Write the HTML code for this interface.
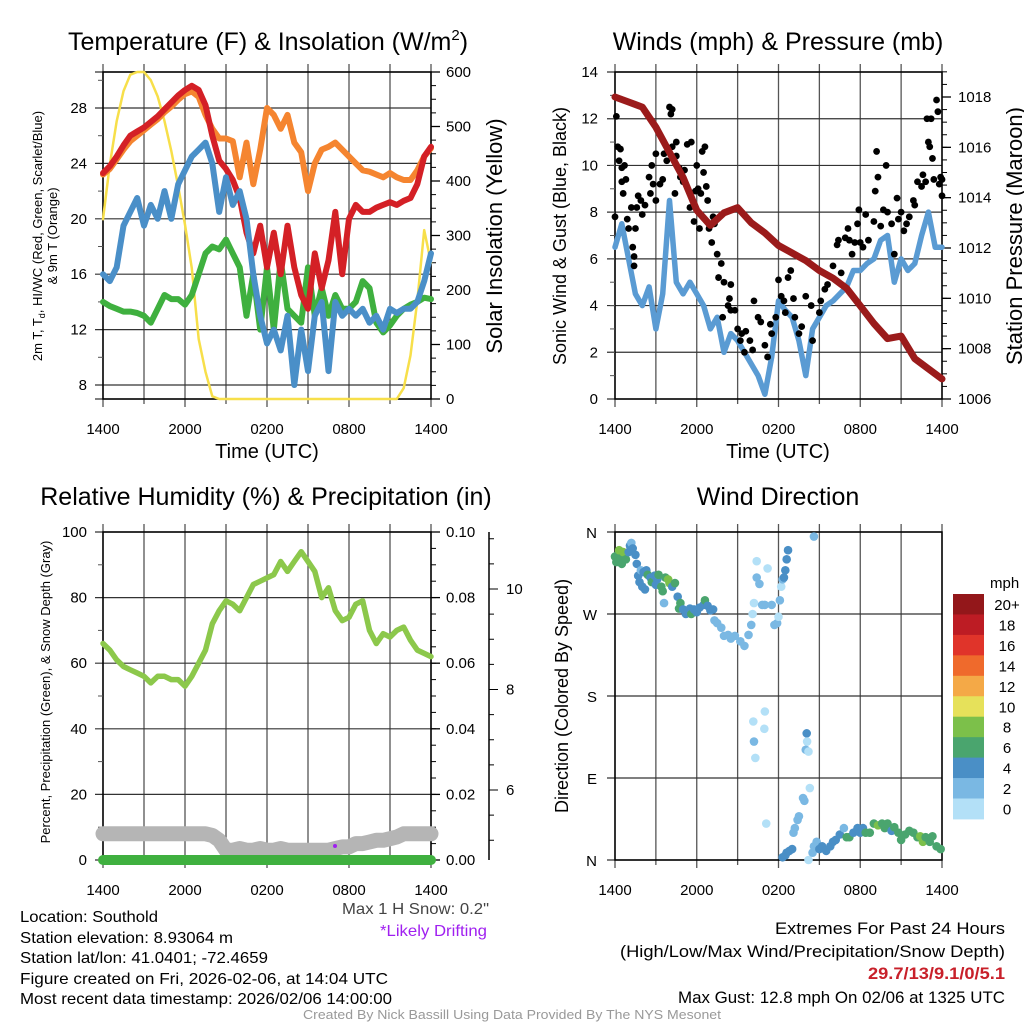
<!DOCTYPE html>
<html><head><meta charset="utf-8"><style>
html,body{margin:0;padding:0;background:#fff;}
svg{display:block;font-family:"Liberation Sans",sans-serif;}
</style></head><body>
<svg id="c" width="1024" height="1024" viewBox="0 0 1024 1024" xmlns="http://www.w3.org/2000/svg">
<rect x="0" y="0" width="1024" height="1024" fill="#fff"/>
<g id="layer"></g>
<text x="268" y="50" font-size="25" text-anchor="middle">Temperature (F) &amp; Insolation (W/m<tspan font-size="15" dy="-10">2</tspan><tspan dy="10">)</tspan></text>
<text x="778" y="50" font-size="25" text-anchor="middle">Winds (mph) &amp; Pressure (mb)</text>
<text x="266" y="505" font-size="25" text-anchor="middle">Relative Humidity (%) &amp; Precipitation (in)</text>
<text x="778" y="505" font-size="25" text-anchor="middle">Wind Direction</text>
<text x="267" y="458" font-size="20" text-anchor="middle">Time (UTC)</text>
<text x="778" y="458" font-size="20" text-anchor="middle">Time (UTC)</text>
<text transform="translate(42,236) rotate(-90)" font-size="13" text-anchor="middle">2m T, T<tspan font-size="9" dy="3">d</tspan><tspan dy="-3">, HI/WC (Red, Green, Scarlet/Blue)</tspan></text>
<text transform="translate(57,236) rotate(-90)" font-size="13" text-anchor="middle">&amp; 9m T (Orange)</text>
<text transform="translate(502,236) rotate(-90)" font-size="22" text-anchor="middle">Solar Insolation (Yellow)</text>
<text transform="translate(566,236) rotate(-90)" font-size="18" text-anchor="middle">Sonic Wind &amp; Gust (Blue, Black)</text>
<text transform="translate(1022,236) rotate(-90)" font-size="22" text-anchor="middle">Station Pressure (Maroon)</text>
<text transform="translate(50,692) rotate(-90)" font-size="13" text-anchor="middle">Percent, Precipitation (Green), &amp; Snow Depth (Gray)</text>
<text transform="translate(568,696) rotate(-90)" font-size="18" text-anchor="middle">Direction (Colored By Speed)</text>
<text x="489" y="914" font-size="16" fill="#444" text-anchor="end" textLength="147" lengthAdjust="spacingAndGlyphs">Max 1 H Snow: 0.2"</text>
<text x="487" y="936" font-size="16" fill="#a020f0" text-anchor="end" textLength="107" lengthAdjust="spacingAndGlyphs">*Likely Drifting</text>
<g font-size="16">
<text x="20" y="922" textLength="138" lengthAdjust="spacingAndGlyphs">Location: Southold</text>
<text x="20" y="943" textLength="213" lengthAdjust="spacingAndGlyphs">Station elevation: 8.93064 m</text>
<text x="20" y="963" textLength="248" lengthAdjust="spacingAndGlyphs">Station lat/lon: 41.0401; -72.4659</text>
<text x="20" y="984" textLength="368" lengthAdjust="spacingAndGlyphs">Figure created on Fri, 2026-02-06, at 14:04 UTC</text>
<text x="20" y="1004" textLength="372" lengthAdjust="spacingAndGlyphs">Most recent data timestamp: 2026/02/06 14:00:00</text>
</g>
<g font-size="17" text-anchor="end">
<text x="1005" y="934" textLength="230" lengthAdjust="spacingAndGlyphs">Extremes For Past 24 Hours</text>
<text x="1005" y="957" textLength="385" lengthAdjust="spacingAndGlyphs">(High/Low/Max Wind/Precipitation/Snow Depth)</text>
<text x="1005" y="979" fill="#c8202a" font-weight="bold" textLength="137" lengthAdjust="spacingAndGlyphs">29.7/13/9.1/0/5.1</text>
<text x="1005" y="1003" textLength="327" lengthAdjust="spacingAndGlyphs">Max Gust: 12.8 mph On 02/06 at 1325 UTC</text>
</g>
<text x="512" y="1019" font-size="13" fill="#999" text-anchor="middle" textLength="418" lengthAdjust="spacingAndGlyphs">Created By Nick Bassill Using Data Provided By The NYS Mesonet</text>
</svg>
<script>
// ---- data ----
const timeTicks = ["1400","2000","0200","0800","1400"];
const redT = [23.3,23.8,24.5,25.3,26.0,26.3,26.6,27.0,27.4,27.9,28.4,28.9,29.3,29.6,29.3,28.2,26.0,24.2,23.6,22.8,21.5,19.0,17.5,19.5,16.5,19.0,16.0,19.5,16.5,14.5,13.5,17.5,15.0,17.0,20.5,16.0,20.0,21.0,20.5,20.5,20.8,21.0,21.2,21.0,21.3,21.5,22.5,24.5,25.2];
const orangeT = [23.2,23.6,24.3,25.0,25.6,26.0,26.4,26.8,27.2,27.7,28.1,28.6,29.0,29.2,28.8,27.5,26.5,25.8,25.8,25.6,23.0,25.5,22.5,25.0,28.0,27.5,26.5,27.5,25.5,24.8,22.0,24.0,25.0,25.2,25.5,25.0,24.5,24.0,23.5,23.4,23.2,23.0,23.3,23.0,22.8,22.8,23.5,24.5,25.1];
const blueWC = [16,15.5,16.5,19.5,20.5,21.5,19.5,21,20,22,20,22.5,23.5,24.5,25,25.5,24,20.5,23,21,22,20,16,13,11,12,10.5,13,8,12,9,13,14,9,14,13,13.5,13,13.5,12.5,13,12,13.5,13.2,13.5,13.5,14,15.5,17.5];
const greenTd = [14,13.7,13.5,13.3,13.3,13.2,13.0,12.5,13.5,14.5,14.2,14.2,13.8,14.5,16,17.5,18,17.8,18.5,17.5,16.5,13,16,12,16.5,12,17,13.5,13,12.5,16.5,13,15,13,14.5,13.5,13.5,14,15.5,15,12.5,11.8,12.3,13.0,13.5,13.8,14.0,14.3,14.2];
const solar = [330,430,510,565,595,600,600,585,555,510,455,390,320,240,110,50,5,0,0,0,0,0,0,0,0,0,0,0,0,0,0,0,0,0,0,0,0,0,0,0,0,0,0,0,20,80,180,310,250];
const windSpd = [6.5,7.5,6.0,4.5,4.0,4.8,3.0,4.5,8.5,5.0,4.5,5.0,4.5,4.0,3.0,3.5,2.0,2.8,2.5,2.0,1.5,1.0,0.2,1.8,4.2,3.8,3.5,2.5,1.0,3.0,3.5,4.0,4.2,4.5,4.8,5.5,5.5,5.8,6.0,6.8,7.0,5.0,6.0,5.5,5.8,7.0,8.0,6.5,6.5];
const gustHours = [0.0,0.1,0.2,0.3,0.4,0.5,0.5,0.6,0.7,0.8,0.9,1.0,1.2,1.3,1.4,1.4,1.5,1.6,1.7,1.9,2.0,2.2,2.5,2.6,2.7,2.8,3.0,3.0,3.3,3.5,3.6,3.8,4.0,4.1,4.2,4.2,4.4,4.5,4.5,4.7,4.8,5.0,5.1,5.3,5.5,5.6,5.8,5.9,6.0,6.1,6.2,6.3,6.4,6.5,6.6,6.7,6.8,6.9,7.1,7.2,7.3,7.5,7.6,7.8,8.0,7.9,8.3,8.4,8.5,8.5,8.8,9.0,9.2,9.3,9.5,9.6,9.9,10.1,10.2,10.5,10.7,11.0,11.2,11.4,11.5,11.8,12.0,12.2,12.4,12.5,12.7,12.9,13.1,13.2,13.5,13.7,14.0,14.4,14.5,15.0,15.1,15.4,15.6,16.0,16.3,16.4,16.6,16.9,17.1,17.2,17.4,17.6,17.8,17.9,18.0,18.2,18.4,18.6,19.0,19.1,19.2,19.3,19.5,19.7,19.9,20.0,20.3,20.5,20.7,20.8,21.0,21.2,21.4,21.6,21.9,22.0,22.2,22.5,22.6,22.8,22.9,23.0,23.1,23.2,23.3,23.4,23.6,23.7,23.8,23.9,24.0,24.0];
const gustValues = [7.8,12.1,10.8,10.2,10.7,9.3,9.9,8.8,10.0,9.4,7.7,7.3,8.2,6.5,5.7,6.1,7.3,8.2,8.7,8.5,7.9,8.3,9.5,8.8,10.0,9.2,8.5,10.5,9.2,9.4,10.5,10.2,12.5,12.2,12.4,10.8,8.8,11.0,10.4,9.9,9.5,9.3,9.8,10.9,8.2,11.0,7.6,8.9,10.0,9.0,7.3,8.8,10.6,9.7,10.8,9.1,8.5,7.3,6.7,7.8,7.5,6.2,5.2,5.8,5.0,3.5,4.0,4.3,3.8,4.9,3.8,3.0,2.5,2.8,2.0,2.9,2.5,2.1,4.2,3.5,3.3,2.3,1.8,3.2,2.8,3.5,5.1,4.4,4.2,3.7,5.2,5.5,4.3,3.5,2.8,3.1,4.4,4.0,2.5,3.7,4.2,4.7,4.9,5.7,6.6,6.8,5.4,6.9,7.3,6.8,6.2,6.7,7.5,8.1,6.7,6.5,7.9,6.8,7.6,8.9,10.6,9.5,7.4,8.1,10.0,8.0,7.5,6.2,8.6,7.7,8.0,7.2,7.5,7.8,8.5,8.3,9.3,9.1,9.6,9.3,12.0,11.0,10.8,12.0,10.3,9.4,12.8,12.3,9.2,9.5,8.7,9.4];
const pressure = [1018.0,1017.8,1017.6,1016.8,1015.8,1014.8,1013.5,1012.9,1013.4,1013.6,1013.0,1012.6,1012.1,1011.8,1011.5,1011.1,1010.8,1010.4,1009.7,1009.0,1008.4,1008.5,1007.6,1007.2,1006.8];
const rh = [66,64,61,59,58,57,56,54,56,56,55,55,53,56,60,64,72,76,79,78,76,80,84,85,86,87,91,88,91,94,91,88,80,83,76,73,74,78,79,70,66,69,68,70,71,67,64,63,62];
const snowDepth = [8,8,8,8,8,8,8,8,8,8,8,8,8,8,8,8,7.5,6,3,3,3.5,3,3,3.5,3,3,3.5,3,3,3,3,3,3,3,3.5,4,4,5,5,5.5,6,6,6.5,7,8,8,8,8,8];
const precip = [0,0,0,0,0,0,0,0,0,0,0,0,0,0,0,0,0,0,0,0,0,0,0,0,0,0,0,0,0,0,0,0,0,0,0,0,0,0,0,0,0,0,0,0,0,0,0,0,0];
const dirHours = [0,0.1,0.2,0.3,0.4,0.5,0.6,0.8,1,1.1,1.2,1.3,1.5,1.6,1.7,1.8,1.9,2.0,2.1,2.2,2.3,2.4,2.6,2.7,2.9,3.0,3.1,3.2,3.4,3.5,3.6,3.7,3.9,4.0,4.2,4.4,4.6,4.7,4.8,5.0,5.2,5.5,5.6,5.8,6.0,6.2,6.5,6.6,6.8,7.0,7.2,7.3,7.5,7.8,8.0,8.3,8.5,8.8,9.2,9.5,9.8,10.0,10.1,10.2,10.4,10.4,10.6,10.8,11.0,11.2,11.5,11.7,11.9,12.0,12.1,12.2,12.3,12.4,12.5,12.6,12.7,14.6,10.15,10.2,10.3,11.0,10.96,11.1,14.07,14.1,14.0,14.2,14.3,13.8,13.9,13.5,13.4,13.2,13.1,12.5,12.6,12.8,13.0,12.3,14.2,14.5,14.6,14.8,15.0,15.2,15.5,15.8,16.0,16.2,16.5,16.8,17.0,17.2,17.5,17.8,18.0,18.2,18.4,18.7,19.0,19.3,19.6,19.8,20.0,20.3,20.5,20.8,21.0,21.3,21.6,21.9,22.2,22.4,22.6,22.8,23.1,23.3,23.6,23.9];
const dirDegrees = [333,327,335,340,330,325,338,330,338,345,348,342,335,325,312,305,318,300,316,297,318,313,310,305,312,302,308,313,300,295,282,310,308,304,300,304,289,276,282,275,270,276,270,275,272,277,280,285,279,274,275,263,260,255,246,247,243,246,240,235,247,258,270,282,310,328,303,280,280,320,280,258,260,267,285,300,308,310,318,330,340,355,152,130,112,163,144,40,139,130,121,119,79,68,65,48,44,35,30,5,8,10,12,3,0,8,15,20,12,15,10,15,20,22,28,35,25,25,30,35,30,35,30,30,40,38,40,35,40,32,36,30,22,28,32,30,25,26,20,25,20,26,15,12];
const dirSpeeds = [7,7,7,9,6,6,9,7,5,5,3,5,5,5,5,5,3,5,5,5,5,7,5,7,5,5,5,7,7,7,2,7,8,8,5,7,5,7,7,5,5,5,7,5,5,5,5,6,4,5,5,3,3,3,3,3,3,3,3,3,3,3,1,1,3,1,3,3,3,1,2,3,3,1,3,1,3,5,5,5,5,3,1,3,1,1,1,1,4,1,3,1,1,3,3,3,3,3,3,5,5,5,5,5,1,3,3,2,4,4,5,5,5,5,5,3,6,6,5,5,5,4,6,6,6,8,6,6,6,5,6,6,6,6,6,6,6,8,8,6,6,6,6,6];
const speedLabels = ["20+","18","16","14","12","10","8","6","4","2","0"];
const speedColors = ["#93171a","#bd1c24","#e0342a","#ef6a2c","#f4a947","#e6e15a","#7cc04a","#4aa56e","#4a8fc6","#7ab8e3","#b3e0f7"];

const NS="http://www.w3.org/2000/svg";
const L=document.getElementById('layer');
function mk(tag,at,parent){const e=document.createElementNS(NS,tag);for(const k in at)e.setAttribute(k,at[k]);(parent||L).appendChild(e);return e;}

const P1={x0:103,x1:431,y0:72,y1:399}, P2={x0:615,x1:942,y0:72,y1:399}, P3={x0:103,x1:431,y0:532,y1:860}, P4={x0:615,x1:942,y0:532,y1:860};
function xH(P,h){return P.x0+(P.x1-P.x0)*h/24;}
function lin(v,v0,y0,v1,y1){return y0+(v-v0)*(y1-y0)/(v1-v0);}
const yT=v=>lin(v,8,385,28,108), yS=v=>lin(v,0,399,600,72);
const yW=v=>lin(v,0,399,14,72), yP=v=>lin(v,1006,399,1018,97);
const yRH=v=>lin(v,0,860,100,532);
const yDir=v=>lin(v,0,860,360,532);

function grid(P,ys,name){
  for(let i=0;i<=8;i++){const x=xH(P,i*3);
    const l=mk('line',{x1:x,y1:P.y0-8,x2:x,y2:P.y1+(i%2==0?8:5),stroke:'#555','stroke-width':1.3});
    
    }
  ys.forEach(y=>{const l=mk('line',{x1:P.x0-8,y1:y,x2:P.x1,y2:y,stroke:'#333','stroke-width':1.2});
    
    });
  const f=mk('rect',{x:P.x0,y:P.y0,width:P.x1-P.x0,height:P.y1-P.y0,fill:'none',stroke:'#000','stroke-width':1.5});
  
  
  timeTicks.forEach((t,i)=>{const tx=mk('text',{x:xH(P,i*6),y:P.y1+35,'font-size':15,'text-anchor':'middle'});tx.textContent=t;
    
    });
}
function ylabels(vals,fy,x,anchor,name){
  vals.forEach(v=>{const t=mk('text',{x:x,y:fy(v)+5,'font-size':15,'text-anchor':anchor});t.textContent=v;
    
    });
}
function rticks(P,vals,fy,minor){
  minor.forEach(v=>{mk('line',{x1:P.x1,y1:fy(v),x2:P.x1+5,y2:fy(v),stroke:'#000','stroke-width':1});});
  vals.forEach(v=>{mk('line',{x1:P.x1,y1:fy(v),x2:P.x1+9,y2:fy(v),stroke:'#000','stroke-width':1.3});});
}
function lminor(P,vals,fy){vals.forEach(v=>mk('line',{x1:P.x0-5,y1:fy(v),x2:P.x0,y2:fy(v),stroke:'#555','stroke-width':1}));}
function poly(P,arr,fy,color,w,name,n){
  const N=n||arr.length-1;
  const pts=arr.map((v,i)=>xH(P,i*24/N).toFixed(1)+','+fy(v).toFixed(1)).join(' ');
  const p=mk('polyline',{points:pts,fill:'none',stroke:color,'stroke-width':w,'stroke-linejoin':'round','stroke-linecap':'round'});
  
  
  return p;
}
function range(a,b,s){const r=[];for(let v=a;v<=b+1e-9;v+=s)r.push(+v.toFixed(4));return r;}

// ---- Panel 1 ----
const tVals=[8,12,16,20,24,28];
grid(P1,tVals.map(yT).concat([P1.y0,P1.y1]),'temp');
lminor(P1,range(10,30,4),yT);
ylabels(tVals,yT,87,'end','temp-y-tick-label');
rticks(P1,[0,100,200,300,400,500,600],yS,range(25,575,25));
ylabels([0,100,200,300,400,500,600],yS,446,'start','insolation-tick-label');
poly(P1,solar,yS,'#f7df4a',2.5,'insolation-line');
poly(P1,greenTd,yT,'#3fb03f',6,'dewpoint-line');
poly(P1,orangeT,yT,'#f58530',6,'temp-9m-line');
poly(P1,redT,yT,'#d42026',6,'temp-2m-line');
poly(P1,blueWC,yT,'#4a8fc8',6,'windchill-line');

// ---- Panel 2 ----
const wVals=[0,2,4,6,8,10,12,14];
grid(P2,wVals.map(yW),'winds');
lminor(P2,range(1,13,1),yW);
ylabels(wVals,yW,598,'end','wind-y-tick-label');
rticks(P2,[1006,1008,1010,1012,1014,1016,1018],yP,range(1006.5,1019,0.5));
ylabels([1006,1008,1010,1012,1014,1016,1018],yP,958,'start','pressure-tick-label');
poly(P2,windSpd,yW,'#5a9bd3',5.5,'wind-speed-line');
gustHours.forEach((h,i)=>{const c=mk('circle',{cx:xH(P2,h),cy:yW(gustValues[i]),r:3.4,fill:'#000'});
  
  });
poly(P2,pressure,yP,'#9b1b1b',7,'pressure-line');

// ---- Panel 3 ----
const rVals=[0,20,40,60,80,100];
grid(P3,rVals.map(yRH),'rh');
lminor(P3,range(10,90,20),yRH);
ylabels(rVals,yRH,87,'end','rh-y-tick-label');
rticks(P3,rVals,yRH,range(5,95,5));
ylabels(["0.00","0.02","0.04","0.06","0.08","0.10"],v=>yRH(parseFloat(v)*1000),446,'start','precip-tick-label');
const ySn=v=>lin(v,6,790,10,589);
mk('line',{x1:489,y1:532,x2:489,y2:860,stroke:'#000','stroke-width':1.5});
range(5,11,0.5).forEach(v=>{const y=ySn(v);if(y>=532&&y<=860)mk('line',{x1:489,y1:y,x2:v%2==0?498:494,y2:y,stroke:'#000','stroke-width':1});});
[6,8,10].forEach(v=>{const t=mk('text',{x:506,y:ySn(v)+5,'font-size':15});t.textContent=v;
  
  });
poly(P3,snowDepth,yRH,'#b5b5b5',15,'snow-depth-line');
poly(P3,precip,v=>yRH(v*1000),'#3fb03f',10,'precip-line');
const pd=mk('circle',{cx:335,cy:846,r:2,fill:'#a020f0'});


poly(P3,rh,yRH,'#8cc84b',5.5,'rh-line');

// ---- Panel 4 ----
const dVals=[0,90,180,270,360], dLabels=["N","E","S","W","N"];
grid(P4,dVals.map(yDir),'dir');
dVals.forEach((v,i)=>{const t=mk('text',{x:597,y:yDir(v)+6,'font-size':15,'text-anchor':'end'});t.textContent=dLabels[i];
  
  });
function spdColor(s){let k=Math.min(10,Math.floor(s/2));if(s<2)k=0;return speedColors[10-k];}
dirHours.forEach((h,i)=>{const c=mk('circle',{cx:xH(P4,h),cy:yDir(dirDegrees[i]),r:4.3,fill:spdColor(dirSpeeds[i])});
  
  });
const cb=mk('text',{x:990,y:588,'font-size':15});cb.textContent='mph';


speedLabels.forEach((lab,i)=>{const y=594+i*20.45;
  const r=mk('rect',{x:953,y:y,width:31,height:20.9,fill:speedColors[i]});
  
  
  const t=mk('text',{x:1007,y:y+16,'font-size':15,'text-anchor':'middle'});t.textContent=lab;
  
  });
</script>
</body></html>
